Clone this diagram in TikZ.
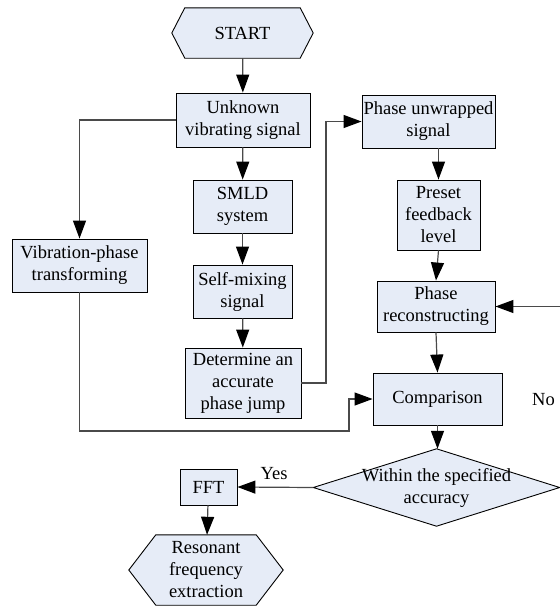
\documentclass[tikz,border=0pt]{standalone}
\usepackage{fontspec}
\setmainfont{Liberation Serif}
\newfontfamily\tnr{Liberation Serif}
\usetikzlibrary{arrows.meta,backgrounds}
\definecolor{boxfill}{HTML}{E6ECF7}
\definecolor{linec}{HTML}{4A4A4A}
\begin{document}
\begin{tikzpicture}[x=1pt,y=-1pt,
  txt/.style={inner sep=0pt, align=center, font=\tnr\fontsize{18.5}{22}\selectfont},
  box/.style={txt, draw=black, fill=boxfill, line width=0.9pt},
  shp/.style={draw=black, fill=boxfill, line width=0.9pt},
  conn/.style={draw=linec, line width=1.2pt},
  arr/.style={conn, -{Triangle[length=18pt,width=13pt,fill=black,color=black]}}]
\useasboundingbox (0,0) rectangle (560,606);

% nodes
\node[txt, minimum width=141pt, minimum height=50pt] (start) at (242.5,33) {START};
\node[box, minimum width=134pt, minimum height=54pt] (unk) at (243,120) {Unknown\\vibrating signal};
\node[box, minimum width=99pt, minimum height=53pt] (smld) at (242.5,206.5) {SMLD\\system};
\node[box, minimum width=99pt, minimum height=53pt] (self) at (242.5,291.5) {Self-mixing\\signal};
\node[box, minimum width=116pt, minimum height=70pt] (det) at (243,383) {Determine an\\accurate\\phase jump};
\node[box, minimum width=135pt, minimum height=53pt] (vib) at (79.5,265.5) {Vibration-phase\\transforming};
\node[box, minimum width=133pt, minimum height=53pt] (pu) at (428.5,121.5) {Phase unwrapped\\signal};
\node[box, minimum width=83pt, minimum height=70pt] (pre) at (438.5,215) {Preset\\feedback\\level};
\node[box, minimum width=118pt, minimum height=51pt] (prc) at (436,306.5) {Phase\\reconstructing};
\node[box, minimum width=129pt, minimum height=52pt] (cmp) at (437.5,399) {Comparison};
\node[txt, minimum width=246pt, minimum height=77pt] (dia) at (436.5,487.5) {Within the specified\\accuracy};
\node[box, minimum width=57pt, minimum height=36pt] (fft) at (208.5,487) {FFT};
\node[txt, minimum width=154pt, minimum height=70pt] (res) at (206,570) {Resonant\\frequency\\extraction};
\node[txt] (yes) at (274,474) {Yes};
\node[txt] (no) at (543.5,400) {No};

% shapes behind text
\begin{scope}[on background layer]
  \draw[shp] (start.west) -- ([xshift=13pt]start.north west) -- ([xshift=-13pt]start.north east)
    -- (start.east) -- ([xshift=-13pt]start.south east) -- ([xshift=13pt]start.south west) -- cycle;
  \draw[shp] (res.west) -- ([xshift=27pt]res.north west) -- ([xshift=-27pt]res.north east)
    -- (res.east) -- ([xshift=-27pt]res.south east) -- ([xshift=27pt]res.south west) -- cycle;
  \draw[shp] (dia.west) -- (dia.north) -- (dia.east) -- (dia.south) -- cycle;
\end{scope}

% connectors
\coordinate (c1) at (349,431);
\coordinate (c2) at (326,383);
\coordinate (fb) at (562,306.5);
\draw[arr] (start) -- (unk);
\draw[arr] (unk) -- (smld);
\draw[arr] (smld) -- (self);
\draw[arr] (self) -- (det);
\draw[arr] (unk.west) -| (vib.north);
\draw[arr] (vib.south) |- (c1) |- (cmp.west);
\draw[arr] (det.east) -- (c2) |- (pu.west);
\draw[arr] (pu.south -| pre.north) -- (pre.north);
\draw[arr] (pre.south) -- (prc.north);
\draw[arr] (prc.south) -- (cmp.north);
\draw[arr] (cmp.south) -- (cmp.south |- dia.north);
\draw[arr] (dia.west) -- (fft.east);
\draw[arr] (fft) -- (res);
\draw[arr] (dia.east) -| (fb) -- (prc.east);
\end{tikzpicture}
\end{document}
